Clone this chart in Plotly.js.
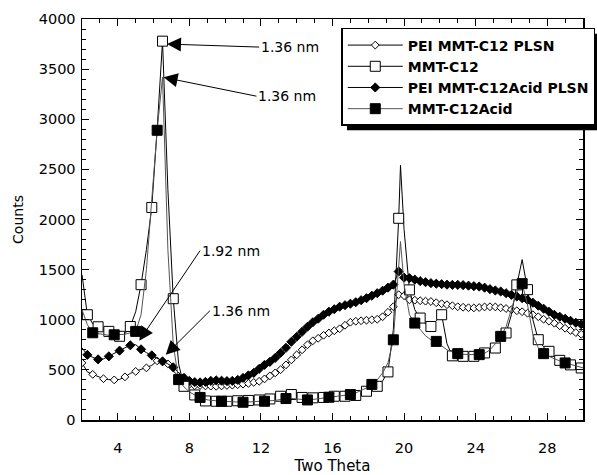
<!DOCTYPE html>
<html>
<head>
<meta charset="utf-8">
<script src="https://cdn.plot.ly/plotly-3.0.1.min.js"></script>
<style>html,body{margin:0;padding:0;background:#fff}#chart{width:597px;height:475px}</style>
</head>
<body>
<div id="chart"></div>
<script>
// Two Theta sampling positions (degrees)
const twoTheta = [
  2.0, 2.3, 2.6, 2.9, 3.2, 3.5, 3.8, 4.1, 4.4, 4.7,
  5.0, 5.3, 5.6, 5.9, 6.2, 6.5, 6.8, 7.1, 7.4, 7.7,
  8.0, 8.3, 8.6, 8.9, 9.2, 9.5, 9.8, 10.1, 10.4, 10.7,
  11.0, 11.3, 11.6, 11.9, 12.2, 12.5, 12.8, 13.1, 13.4, 13.7,
  14.0, 14.3, 14.6, 14.9, 15.2, 15.5, 15.8, 16.1, 16.4, 16.7,
  17.0, 17.3, 17.6, 17.9, 18.2, 18.5, 18.8, 19.1, 19.4, 19.7,
  19.8, 20.0, 20.3, 20.6, 20.9, 21.2, 21.5, 21.8, 22.1, 22.4,
  22.7, 23.0, 23.3, 23.6, 23.9, 24.2, 24.5, 24.8, 25.1, 25.4,
  25.7, 26.0, 26.3, 26.6, 26.9, 27.2, 27.5, 27.8, 28.1, 28.4,
  28.7, 29.0, 29.3, 29.6, 29.9, 30.0
];

// PEI MMT-C12 PLSN (open diamonds)
const peiC12 = [
  570, 480, 455, 430, 412, 403, 400, 405, 430, 465,
  485, 500, 520, 545, 590, 605, 560, 490, 436, 385,
  355, 342, 345, 340, 338, 336, 340, 345, 348, 352,
  358, 365, 375, 386, 410, 440, 470, 502, 550, 600,
  650, 700, 750, 790, 815, 845, 868, 890, 910, 945,
  975, 985, 990, 995, 1000, 1005, 1030, 1075, 1130, 1250,
  1270, 1240, 1199, 1195, 1190, 1185, 1182, 1170, 1160, 1150,
  1140, 1130, 1125, 1120, 1118, 1122, 1128, 1130, 1128, 1120,
  1112, 1100, 1090, 1080, 1065, 1050, 1030, 1005, 985, 965,
  940, 915, 893, 872, 855, 851
];

// MMT-C12 (open squares)
const mmtC12 = [
  1450, 1050, 960, 930, 905, 884, 860, 835, 860, 933,
  1080, 1350, 1700, 2120, 2900, 3779, 2300, 1210, 560, 336,
  280, 250, 215, 190, 185, 187, 185, 187, 190, 192,
  195, 195, 197, 200, 205, 210, 220, 237, 250, 254,
  240, 225, 220, 221, 222, 225, 230, 237, 237, 237,
  237, 245, 265, 287, 310, 336, 390, 480, 900, 2012,
  2540, 1900, 1298, 1100, 1017, 960, 933, 990, 1050, 760,
  640, 635, 635, 633, 635, 650, 669, 690, 718, 780,
  868, 1050, 1348, 1600, 1300, 1000, 801, 730, 685, 630,
  595, 570, 550, 535, 519, 515
];

// PEI MMT-C12Acid PLSN (filled diamonds)
const peiC12Acid = [
  720, 650, 625, 605, 610, 635, 665, 692, 720, 745,
  752, 705, 672, 645, 610, 585, 560, 525, 470, 420,
  390, 378, 375, 380, 390, 395, 392, 388, 390, 400,
  420, 445, 470, 510, 550, 580, 620, 670, 720, 780,
  830, 880, 930, 975, 1010, 1050, 1080, 1105, 1130, 1145,
  1160, 1175, 1195, 1215, 1240, 1265, 1290, 1320, 1350, 1481,
  1470, 1420, 1415, 1400, 1385, 1375, 1365, 1360, 1355, 1350,
  1348, 1348, 1345, 1340, 1335, 1331, 1320, 1305, 1292, 1282,
  1265, 1248, 1232, 1215, 1198, 1170, 1140, 1110, 1080, 1050,
  1030, 1010, 990, 970, 955, 950
];

// MMT-C12Acid (filled squares)
const mmtC12Acid = [
  1100, 950, 870, 860, 850, 845, 850, 850, 855, 870,
  884, 1050, 1500, 2200, 2890, 3420, 1700, 750, 403, 330,
  280, 250, 225, 205, 195, 190, 187, 185, 182, 180,
  177, 180, 183, 186, 187, 190, 195, 205, 214, 215,
  210, 205, 200, 205, 212, 220, 227, 232, 238, 245,
  254, 270, 295, 320, 355, 400, 470, 570, 800, 1500,
  1780, 1350, 1050, 967, 900, 840, 800, 784, 740, 700,
  680, 662, 655, 652, 650, 652, 665, 700, 760, 834,
  930, 1100, 1280, 1360, 1150, 850, 720, 662, 635, 610,
  590, 569, 555, 540, 525, 520
];

const seriesNames = ['PEI MMT-C12 PLSN', 'MMT-C12', 'PEI MMT-C12Acid PLSN', 'MMT-C12Acid'];
const xTicks = [4, 8, 12, 16, 20, 24, 28];

// marker placement along the scan: every `step` degrees from `start`,
// tighter spacing (`denseStep`) from `denseFrom` onwards
function markerSubset(xs, ys, start, step, denseFrom, denseStep) {
  const mx = [], my = [];
  xs.forEach((x, i) => {
    const st = (x >= denseFrom - 1e-9) ? denseStep : step;
    const k = (x - start) / st;
    if (x >= start - 1e-9 && Math.abs(k - Math.round(k)) < 1e-6) { mx.push(x); my.push(ys[i]); }
  });
  return {mx, my};
}

const styles = [
  {data: peiC12, line: '#000', sym: 'diamond', size: 6, fill: '#fff', start: 2.0, step: 0.6, denseFrom: 8.0, denseStep: 0.3},
  {data: mmtC12, line: '#000', sym: 'square', size: 10, fill: '#fff', start: 2.3, step: 0.6, denseFrom: 99, denseStep: 0.6},
  {data: peiC12Acid, line: '#000', sym: 'diamond', size: 7, fill: '#000', start: 2.3, step: 0.6, denseFrom: 8.0, denseStep: 0.3},
  {data: mmtC12Acid, line: '#555', sym: 'square', size: 10, fill: '#000', start: 2.6, step: 1.2, denseFrom: 99, denseStep: 1.2}
];

const drawOrder = [0, 2, 1, 3];
const traces = [];
drawOrder.forEach(si => {
  const s = styles[si];
  traces.push({x: twoTheta, y: s.data, type: 'scatter', mode: 'lines',
    line: {color: s.line, width: 1}, showlegend: false, hoverinfo: 'skip'});
  const m = markerSubset(twoTheta, s.data, s.start, s.step, s.denseFrom, s.denseStep);
  traces.push({x: m.mx, y: m.my, type: 'scatter', mode: 'markers',
    marker: {symbol: s.sym, size: s.size, color: s.fill, line: {color: '#000', width: 1}},
    showlegend: false, hoverinfo: 'skip'});
});
styles.forEach((s, si) => {
  traces.push({x: [null], y: [null], type: 'scatter', mode: 'lines+markers', name: seriesNames[si],
    line: {color: s.line, width: 1},
    marker: {symbol: s.sym, size: s.size, color: s.fill, line: {color: '#000', width: 1}}});
});

const annFont = {family: 'DejaVu Sans', size: 14, color: '#000'};
function arrowNote(text, x, y, ax, ay) {
  return {text, x, y, ax, ay, xref: 'x', yref: 'y', axref: 'x', ayref: 'y',
    xanchor: 'left', yanchor: 'middle', showarrow: true, arrowhead: 2, arrowsize: 2.8,
    arrowwidth: 1, arrowcolor: '#000', standoff: 0, font: annFont};
}

const M = {l: 82, r: 14, t: 19, b: 55};
const layout = {
  width: 597, height: 475,
  margin: Object.assign({autoexpand: false}, M),
  paper_bgcolor: '#fff', plot_bgcolor: '#fff',
  font: {family: 'DejaVu Sans', color: '#000'},
  showlegend: true,
  xaxis: {
    range: [2, 30], tickmode: 'array', tickvals: xTicks,
    ticks: 'inside', ticklen: 7, tickwidth: 1, tickcolor: '#000',
    showline: true, linewidth: 1.5, linecolor: '#000', mirror: 'ticks',
    showgrid: false, zeroline: false,
    tickfont: {size: 14.5, family: 'DejaVu Sans'}, ticklabelstandoff: 14,
    minor: {dtick: 1, tick0: 0, ticks: 'inside', ticklen: 4, tickcolor: '#000', showgrid: false},
    title: {text: 'Two Theta', font: {size: 15, family: 'DejaVu Sans'}, standoff: 10}
  },
  yaxis: {
    range: [0, 4000], dtick: 500, tick0: 0,
    ticks: 'inside', ticklen: 7, tickwidth: 1, tickcolor: '#000',
    showline: true, linewidth: 1.5, linecolor: '#000', mirror: 'ticks',
    showgrid: false, zeroline: false,
    tickfont: {size: 14.5, family: 'DejaVu Sans'}, ticklabelstandoff: 2,
    minor: {dtick: 100, tick0: 0, ticks: 'inside', ticklen: 4, tickcolor: '#000', showgrid: false},
    title: {text: 'Counts', font: {size: 14, family: 'DejaVu Sans'}, standoff: 12}
  },
  legend: {
    x: 0.5175, y: 0.9776, xanchor: 'left', yanchor: 'top',
    bgcolor: '#fff', bordercolor: '#000', borderwidth: 1.5,
    font: {family: 'DejaVu Sans', size: 14, weight: 'bold', color: '#000'},
    itemwidth: 55, tracegroupgap: 0, traceorder: 'normal'
  },
  shapes: [],
  annotations: [
    arrowNote('1.36 nm', 6.75, 3750, 11.9, 3720),
    arrowNote('1.36 nm', 6.56, 3418, 11.75, 3230),
    arrowNote('1.92 nm', 5.2, 790, 8.6, 1690),
    arrowNote('1.36 nm', 6.68, 650, 9.15, 1090)
  ]
};

Plotly.newPlot('chart', traces, layout, {displayModeBar: false, staticPlot: true}).then(gd => {
  // drop shadow behind the legend box, offset down-right
  const bg = gd.querySelector('.legend .bg');
  if (!bg) return;
  const r = bg.getBoundingClientRect();
  const g = gd.getBoundingClientRect();
  const pw = 597 - M.l - M.r, ph = 475 - M.t - M.b;
  const off = 5;
  const px2x = p => (p - M.l) / pw;
  const py2y = p => 1 - (p - M.t) / ph;
  Plotly.relayout(gd, {shapes: [{type: 'rect', xref: 'paper', yref: 'paper',
    x0: px2x(r.left - g.left + off), x1: px2x(r.right - g.left + off),
    y0: py2y(r.bottom - g.top + off), y1: py2y(r.top - g.top + off),
    fillcolor: '#000', line: {width: 0}, layer: 'above'}]});
});
</script>
</body>
</html>
